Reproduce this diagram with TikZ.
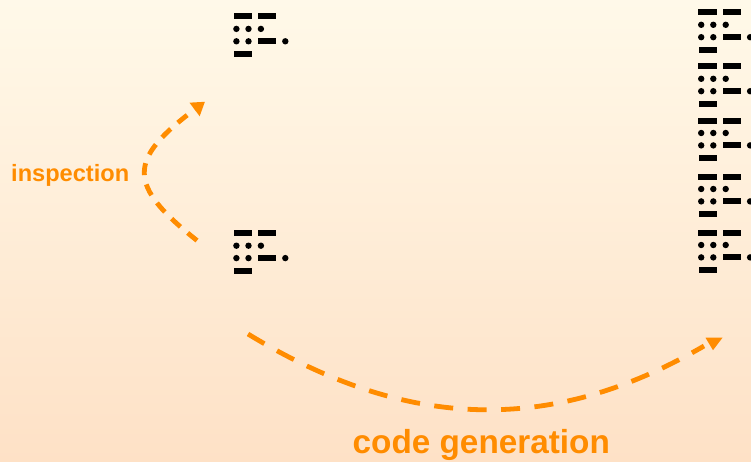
\documentclass[tikz,border=0pt]{standalone}
\usepackage{fontspec}
\setmainfont{Liberation Sans}
\usetikzlibrary{arrows.meta}

\definecolor{bgtop}{HTML}{FFF9E9}
\definecolor{bgbottom}{HTML}{FEE1C6}
\definecolor{accent}{HTML}{FF8C00}

\tikzset{
  % one morse-like glyph: dashes and dots on four rows
  morse/.pic={
    \fill[black] (0,-3) rectangle (18.3,3);
    \fill[black] (24.3,-3) rectangle (42.5,3);
    \fill[black] (2.9,12.4) circle (3.2);
    \fill[black] (15,12.4) circle (3.2);
    \fill[black] (27.4,12.4) circle (3.2);
    \fill[black] (2.9,24.8) circle (3.2);
    \fill[black] (15,24.8) circle (3.2);
    \fill[black] (24.3,21.8) rectangle (42.5,27.8);
    \fill[black] (51.8,24.8) circle (3.2);
    \fill[black] (0.5,34.2) rectangle (18.8,40.2);
  },
  flow/.style={draw=accent, line width=4.8pt},
  label/.style={text=accent, font=\bfseries, inner sep=0pt, anchor=base west},
}

\begin{document}
\begin{tikzpicture}[x=1pt, y=-1pt]
  \useasboundingbox (0,0) rectangle (751,462);
  \shade[top color=bgtop, bottom color=bgbottom] (0,0) rectangle (751,462);

  % left column
  \pic (src) at (233.5,16.5) {morse};
  \pic (cur) at (233.5,233.3) {morse};

  % right column
  \pic (outa) at (698.3,12.4) {morse};
  \pic (outb) at (698.3,66.4) {morse};
  \pic (outc) at (698.3,120.6) {morse};
  \pic (outd) at (698.3,176.6) {morse};
  \pic (oute) at (698.3,232.6) {morse};

  % connector end points
  \coordinate (inspStart) at (197,240.5);
  \coordinate (inspEnd) at (205,101.7);
  \coordinate (genStart) at (248,334);
  \coordinate (genEnd) at (704,346);
  \coordinate (genHead) at (705.5,337.7);

  % inspection loop
  \draw[flow, dash pattern=on 12pt off 9.5pt,
        -{Triangle[length=13pt,width=16pt]}]
    (inspStart) .. controls (127,185) and (127,160) .. (inspEnd);
  \node[label, font=\bfseries\fontsize{23.6}{26}\selectfont] (insp) at (11,181.7) {inspection};

  % code generation sweep
  \draw[flow, dash pattern=on 19pt off 14.5pt]
    (genStart) .. controls (412,434) and (556,432) .. (genEnd);
  \fill[accent] (genHead) -- ++(17,0) -- ++(-9.5,12.5) -- cycle;
  \node[label, font=\bfseries\fontsize{33.3}{36}\selectfont] (gen) at (352.5,453.3) {code generation};
\end{tikzpicture}
\end{document}
